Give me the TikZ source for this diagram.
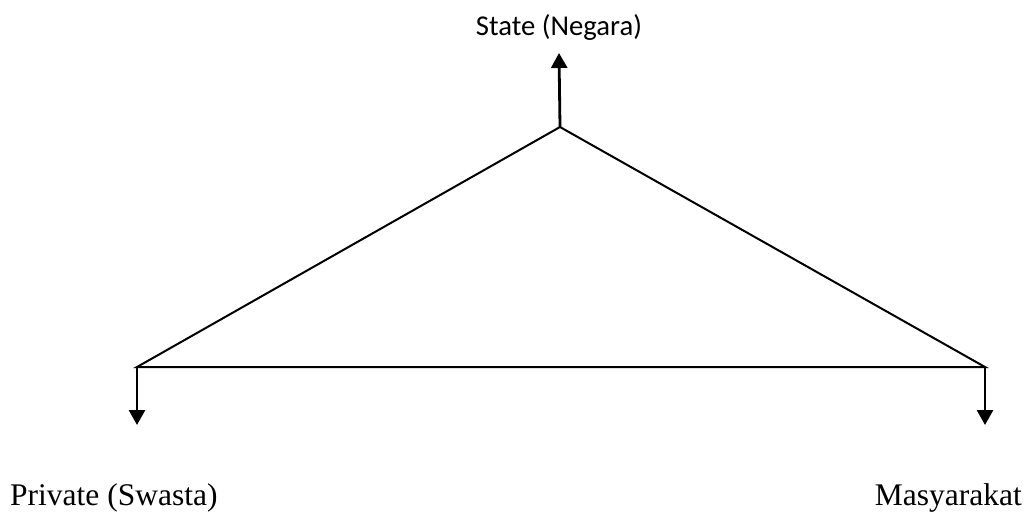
\documentclass[tikz,border=0pt]{standalone}
\usepackage{fontspec}
\setmainfont{Liberation Serif}
\newfontfamily\calfont{Carlito}
\usetikzlibrary{arrows.meta}
\begin{document}
\begin{tikzpicture}[x=1pt,y=-1pt,
  edge/.style={line width=2pt},
  updown/.style={line width=2.8pt,-{Triangle[width=16pt,length=15pt]}},
  serifl/.style={inner sep=0pt,font=\fontsize{31.5}{36}\selectfont},
  sansl/.style={inner sep=0pt,font=\calfont\fontsize{28.7}{34}\selectfont}]
\useasboundingbox (0,0) rectangle (1027,512);
\coordinate (apex) at (560,127);
\coordinate (L) at (137,367);
\coordinate (R) at (985,367);
\coordinate (topTip) at (559,53);
\coordinate (leftTip) at (137,425);
\coordinate (rightTip) at (985,425);
\draw[edge,line join=miter] (L) -- (apex) -- (R) -- cycle;
\draw[updown] (apex) -- (topTip);
\draw[updown] (L) -- (leftTip);
\draw[updown] (R) -- (rightTip);
\node[sansl,anchor=base] (state) at (559,35) {State (Negara)};
\node[serifl,anchor=base west] (private) at (10,505) {Private (Swasta)};
\node[serifl,anchor=base east] (masy) at (1022,505) {Masyarakat};
\end{tikzpicture}
\end{document}
